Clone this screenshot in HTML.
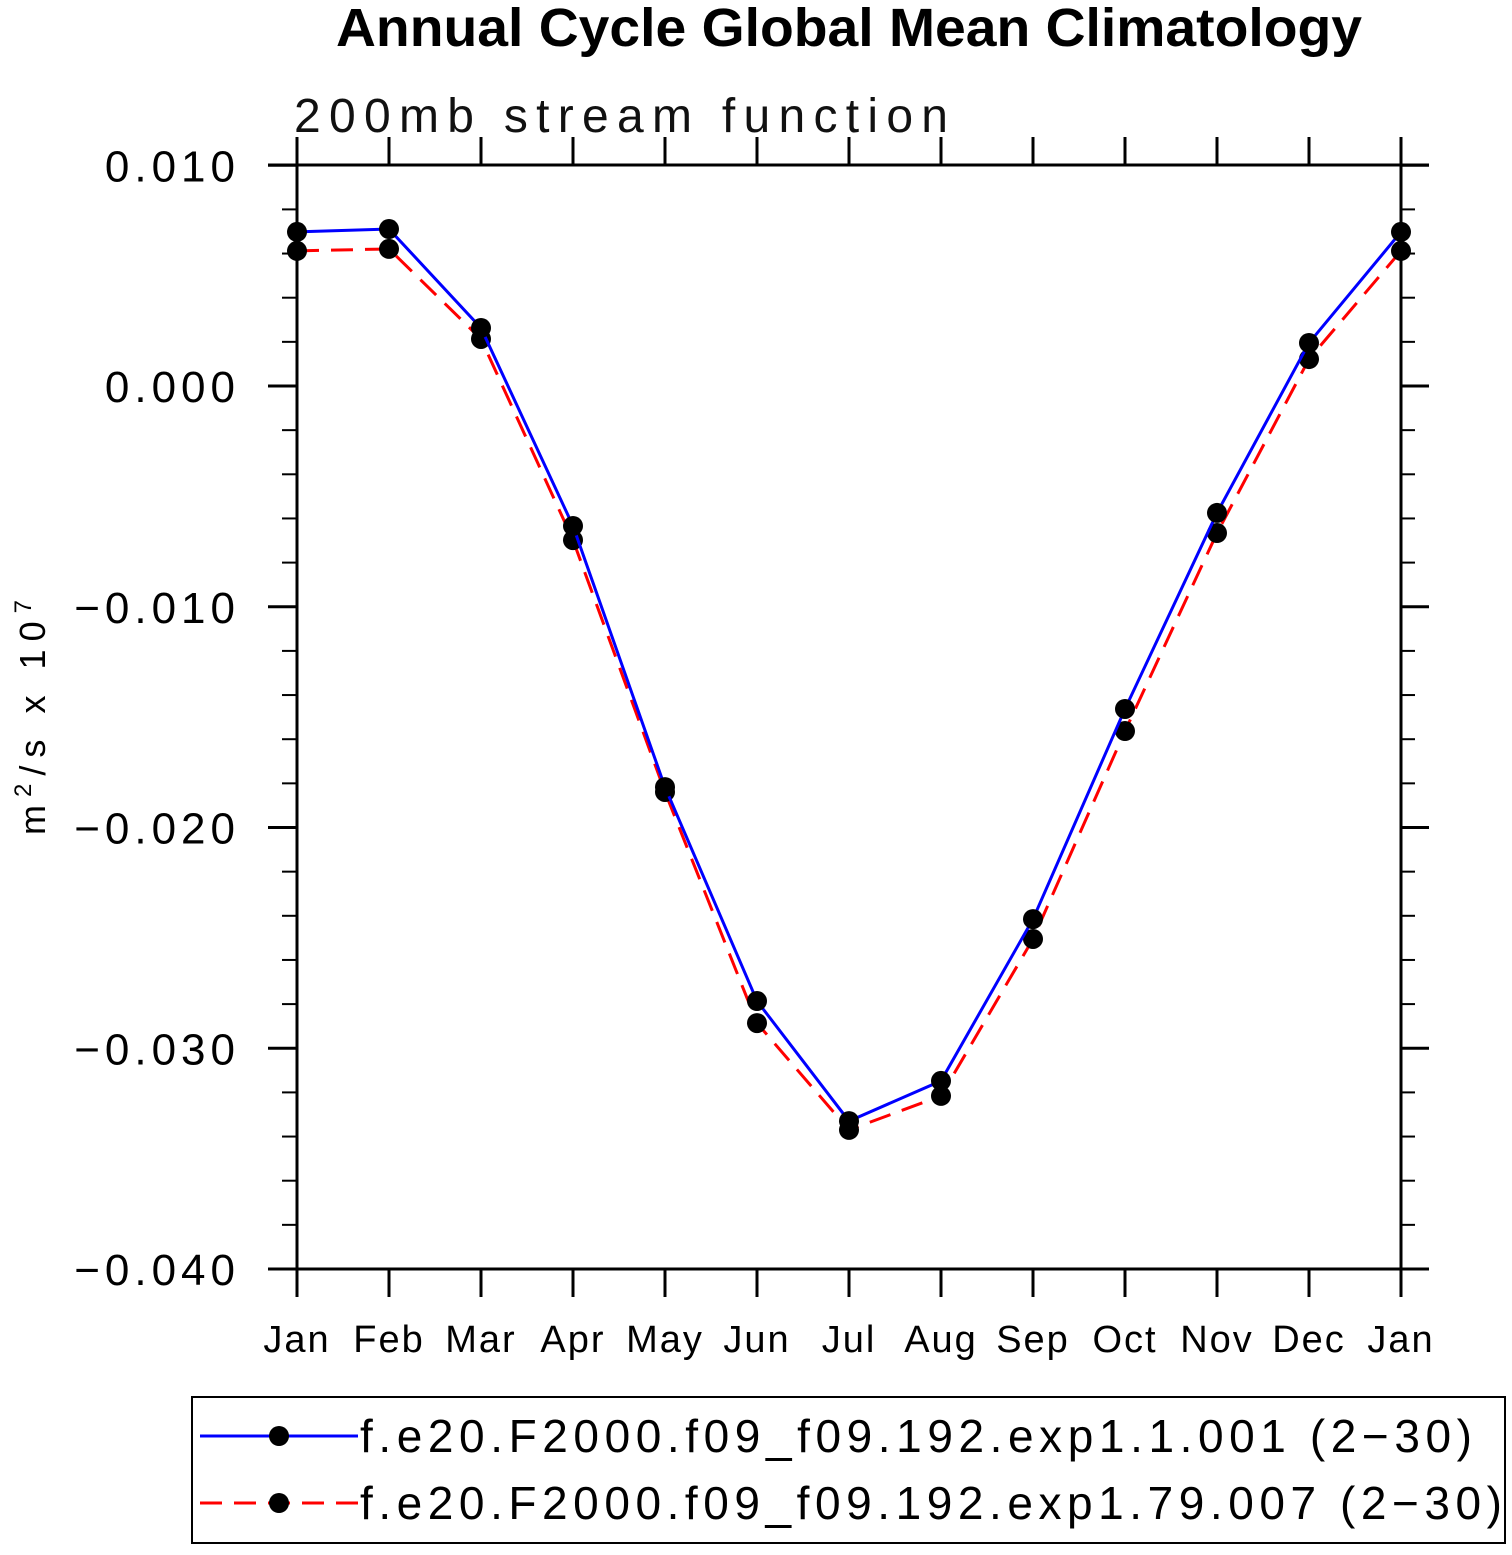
<!DOCTYPE html>
<html><head><meta charset="utf-8"><style>
body{margin:0;background:#fff}
svg text{font-family:"Liberation Sans",sans-serif}
</style></head><body>
<svg id="chart" width="1512" height="1550" xmlns="http://www.w3.org/2000/svg">
<text x="336" y="46" textLength="1026" lengthAdjust="spacingAndGlyphs" font-size="54" font-weight="bold">Annual Cycle Global Mean Climatology</text>
<text x="294" y="132" textLength="654" lengthAdjust="spacing" font-size="48" fill="#111">200mb stream function</text>
<text transform="translate(45,835) rotate(-90)" font-size="36" textLength="235" lengthAdjust="spacing">m<tspan dy="-14" font-size="24">2</tspan><tspan dy="14">/s x 10</tspan><tspan dy="-14" font-size="24">7</tspan></text>
<g id="axes"></g>
<g id="series"></g>
<rect x="192" y="1397" width="1313" height="146" fill="none" stroke="#000" stroke-width="2"/>
<line x1="200" y1="1436" x2="358" y2="1436" stroke="#0000ff" stroke-width="3"/>
<circle cx="279" cy="1436" r="10"/>
<text x="360" y="1452" font-size="46" textLength="1112" lengthAdjust="spacing">f.e20.F2000.f09_f09.192.exp1.1.001 (2−30)</text>
<line x1="200" y1="1503" x2="358" y2="1503" stroke="#ff0000" stroke-width="3" stroke-dasharray="22,12"/>
<circle cx="279" cy="1503" r="10"/>
<text x="360" y="1519" font-size="46" textLength="1142" lengthAdjust="spacing">f.e20.F2000.f09_f09.192.exp1.79.007 (2−30)</text>
</svg>
<script>
const months = ["Jan","Feb","Mar","Apr","May","Jun","Jul","Aug","Sep","Oct","Nov","Dec","Jan"];
const exp1Values = [0.00698,0.00711,0.00263,-0.00634,-0.01817,-0.02786,-0.03330,-0.03148,-0.02415,-0.01463,-0.00575,0.00195,0.00698];
const exp79Values = [0.00612,0.00621,0.00213,-0.00698,-0.01839,-0.02886,-0.03370,-0.03216,-0.02505,-0.01563,-0.00666,0.00122,0.00612];
const yTicks = [0.010,0.000,-0.010,-0.020,-0.030,-0.040];
const yTickLabels = ["0.010","0.000","−0.010","−0.020","−0.030","−0.040"];

const NS="http://www.w3.org/2000/svg";
const X0=297,DX=92,Y0=386,PPU=22075;
const xs=i=>X0+i*DX;
const ys=v=>Y0-v*PPU;
function mk(tag,attrs,parent){const e=document.createElementNS(NS,tag);for(const k in attrs)e.setAttribute(k,attrs[k]);parent.appendChild(e);return e;}
const ax=document.getElementById('axes');
const L=(x1,y1,x2,y2,p,w)=>mk('line',{x1,y1,x2,y2,stroke:'#000','stroke-width':w||3},p);
let e;
e=L(268,165,1429,165,ax);


e=L(268,1269,1429,1269,ax);


e=L(297,137,297,1297,ax);


e=L(1401,137,1401,1297,ax);


months.forEach((m,i)=>{
  const x=xs(i);
  L(x,137,x,165,ax);L(x,1269,x,1297,ax);
  const t=mk('text',{x:x,y:1352,'text-anchor':'middle','font-size':38,'letter-spacing':2},ax);
  t.textContent=m;
  
  
});
for(let v=0.010;v>=-0.0401;v-=0.002){
  const y=ys(v);const major=Math.abs(Math.round(v*1000)%10)<0.5;
  if(major){L(268,y,297,y,ax);L(1401,y,1429,y,ax);}
  else{L(282,y,297,y,ax,2);L(1401,y,1415,y,ax,2);}
}
yTicks.forEach((v,i)=>{
  const t=mk('text',{x:240,y:ys(v)+16,'text-anchor':'end','font-size':44,'letter-spacing':5},ax);
  t.textContent=yTickLabels[i];
  
  
});
const sg=document.getElementById('series');
function series(vals,color,dash,name){
  const p=mk('polyline',{points:vals.map((v,i)=>xs(i)+','+ys(v)).join(' '),fill:'none',stroke:color,'stroke-width':3},sg);
  if(dash)p.setAttribute('stroke-dasharray',dash);
  
  
  vals.forEach((v,i)=>{
    const c=mk('circle',{cx:xs(i),cy:ys(v),r:10,fill:'#000'},sg);
    
    
  });
}
series(exp79Values,'#ff0000','22,12','exp79');
series(exp1Values,'#0000ff',null,'exp1');
</script>
</body></html>
